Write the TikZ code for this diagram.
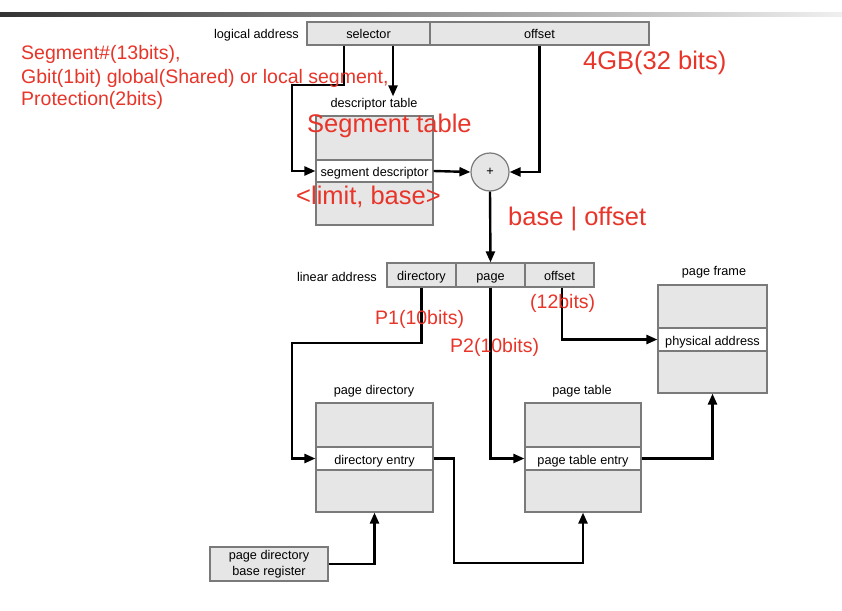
\documentclass[tikz,border=0pt]{standalone}
\usepackage{fontspec}
\setmainfont{Liberation Sans}
\usetikzlibrary{arrows.meta,calc}
\definecolor{boxgray}{HTML}{E6E6E6}
\definecolor{edgegray}{HTML}{7A7A7A}
\definecolor{redtxt}{HTML}{E8352A}
\tikzset{
  cell/.style={draw=edgegray, fill=boxgray, line width=1.2pt, inner sep=0pt, text height=11pt, text depth=0pt, font=\fontsize{12.7}{14}\selectfont},
  entry/.style={draw=edgegray, fill=white, line width=1.2pt, inner sep=0pt, text height=11pt, text depth=0pt, font=\fontsize{12.7}{14}\selectfont},
  lbl/.style={inner sep=0pt, font=\fontsize{12.7}{14}\selectfont},
  redsmall/.style={inner sep=0pt, anchor=west, text=redtxt, font=\fontsize{19.5}{22}\selectfont},
  redbig/.style={inner sep=0pt, anchor=west, text=redtxt, font=\fontsize{25.5}{28}\selectfont},
  arr/.style={line width=2.4pt, -{Triangle[length=11pt,width=9pt]}},
}
\begin{document}
\begin{tikzpicture}[x=1pt,y=-1pt]
\useasboundingbox (0,0) rectangle (842,610);
\fill[white] (0,0) rectangle (842,610);
\shade[left color=black!80, right color=black!6] (0,13) rectangle (842,17);

% logical address
\node[lbl, anchor=east] (lal) at (299,35.5) {logical address};
\node[cell, minimum width=123pt, minimum height=23pt] (sel) at (368.5,33.5) {selector};
\node[cell, minimum width=219pt, minimum height=23pt] (off) at (539.5,33.5) {offset};

% descriptor table
\node[lbl] (dtl) at (374,104.5) {descriptor table};
\node[cell, minimum width=117pt, minimum height=109pt] (dt) at (374.5,170.5) {};
\node[entry, minimum width=117pt, minimum height=22pt] (sd) at (374.5,171) {segment descriptor};

% adder
\node[circle, draw=edgegray, fill=boxgray, line width=1.2pt, minimum size=38pt, inner sep=0pt, font=\fontsize{12.7}{14}\selectfont] (plus) at (490,172) {+};

% linear address
\node[lbl, anchor=east] (lnl) at (377,276.5) {linear address};
\node[cell, minimum width=69pt, minimum height=24pt] (dir) at (421.5,275) {directory};
\node[cell, minimum width=69pt, minimum height=24pt] (pg) at (490.5,275) {page};
\node[cell, minimum width=69pt, minimum height=24pt] (loff) at (559.5,275) {offset};

% page frame
\node[lbl] (pfl) at (714,272.5) {page frame};
\node[cell, minimum width=109pt, minimum height=108pt] (pf) at (712.5,339) {};
\node[entry, minimum width=109pt, minimum height=23pt] (phys) at (712.5,339.5) {physical address};

% page directory
\node[lbl] (pdl) at (374,391.5) {page directory};
\node[cell, minimum width=117pt, minimum height=109pt] (pdir) at (374.5,457.5) {};
\node[entry, minimum width=117pt, minimum height=23pt] (pde) at (374.5,458.5) {directory entry};

% page table
\node[lbl] (ptl) at (582,391.5) {page table};
\node[cell, minimum width=116pt, minimum height=109pt] (ptab) at (583,457.5) {};
\node[entry, minimum width=116pt, minimum height=23pt] (pte) at (583,458.5) {page table entry};

% register
\node[draw=edgegray, fill=boxgray, line width=1.2pt, inner sep=0pt, minimum width=118pt, minimum height=34pt, align=center, font=\fontsize{12.7}{16.5}\selectfont] (reg) at (269,564) {page directory\\base register};

% bend points
\coordinate (b1) at (344,85);
\coordinate (b2) at (292,85);
\coordinate (c393) at (393,0);
\coordinate (b3) at (292,343);
\coordinate (b4) at (454,563);
\coordinate (c562) at (562,0);

% connectors
\draw[arr] (sel.south -| b1) -- (b1) -- (b2) |- (sd.west);
\draw[arr] (sel.south -| c393) -- ($(c393 |- dtl.north)+(0,-2)$);
\draw[arr] (sd.east) -- (plus.west);
\draw[arr] (off.south) |- (plus.east);
\draw[arr] (plus.south) -- (pg.north);
\draw[arr] (dir.south) |- (b3) |- (pde.west);
\draw[arr] (pg.south) |- (pte.west);
\draw[arr] (loff.south -| c562) |- (phys.west);
\draw[arr] (pde.east) -| (b4) -| (ptab.south);
\draw[arr] (pte.east) -| (pf.south);
\draw[arr] (reg.east) -| (pdir.south);

% red annotations
\node[redsmall] (r1) at (21,54) {Segment\#(13bits),};
\node[redsmall] (r2) at (21,78) {Gbit(1bit) global(Shared) or local segment,};
\node[redsmall] (r3) at (21,100) {Protection(2bits)};
\node[redbig] (r4) at (583,62.5) {4GB(32 bits)};
\node[redbig] (r5) at (307,125.5) {Segment table};
\node[redbig] (r6) at (296,196.5) {<limit, base>};
\node[redbig] (r7) at (508,218.5) {base | offset};
\node[redsmall] (r8) at (530,303) {(12bits)};
\node[redsmall] (r9) at (375,319) {P1(10bits)};
\node[redsmall] (r10) at (450,347) {P2(10bits)};
\end{tikzpicture}
\end{document}
